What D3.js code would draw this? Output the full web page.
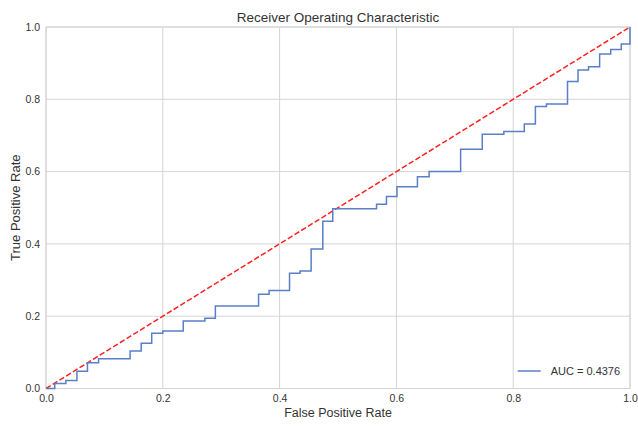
<!DOCTYPE html>
<html>
<head>
<meta charset="utf-8">
<script src="https://cdn.jsdelivr.net/npm/d3@7"></script>
<style>
  html, body { margin: 0; padding: 0; background: #ffffff; }
  svg { display: block; font-family: "Liberation Sans", Arial, sans-serif; }
</style>
</head>
<body>
<div id="chart"></div>
<script>
// ROC curve corner points
const fpr = [0.000, 0.015, 0.015, 0.034, 0.034, 0.053, 0.053, 0.071, 0.071, 0.090, 0.090,
  0.144, 0.144, 0.163, 0.163, 0.181, 0.181, 0.200, 0.200, 0.235, 0.235, 0.272, 0.272,
  0.290, 0.290, 0.364, 0.364, 0.382, 0.382, 0.417, 0.417, 0.435, 0.435, 0.454, 0.454,
  0.474, 0.474, 0.491, 0.491, 0.566, 0.566, 0.583, 0.583, 0.601, 0.601, 0.636, 0.636,
  0.656, 0.656, 0.710, 0.710, 0.747, 0.747, 0.784, 0.784, 0.819, 0.819, 0.838, 0.838,
  0.857, 0.857, 0.893, 0.893, 0.911, 0.911, 0.929, 0.929, 0.948, 0.948, 0.967, 0.967,
  0.985, 0.985, 1.000, 1.000];
const tpr = [0.000, 0.000, 0.014, 0.014, 0.022, 0.022, 0.048, 0.048, 0.071, 0.071, 0.082,
  0.082, 0.104, 0.104, 0.125, 0.125, 0.153, 0.153, 0.159, 0.159, 0.187, 0.187, 0.194,
  0.194, 0.228, 0.228, 0.261, 0.261, 0.271, 0.271, 0.319, 0.319, 0.325, 0.325, 0.386,
  0.386, 0.463, 0.463, 0.497, 0.497, 0.510, 0.510, 0.531, 0.531, 0.558, 0.558, 0.586,
  0.586, 0.600, 0.600, 0.662, 0.662, 0.703, 0.703, 0.711, 0.711, 0.732, 0.732, 0.780,
  0.780, 0.787, 0.787, 0.849, 0.849, 0.881, 0.881, 0.890, 0.890, 0.925, 0.925, 0.938,
  0.938, 0.953, 0.953, 1.000];
const diagonal = [0, 1];
const xTicks = [0.0, 0.2, 0.4, 0.6, 0.8, 1.0];
const yTicks = [0.0, 0.2, 0.4, 0.6, 0.8, 1.0];
const aucLabel = "AUC = 0.4376";
const titleText = "Receiver Operating Characteristic";
const xLabel = "False Positive Rate";
const yLabel = "True Positive Rate";

const W = 638, H = 426;
const margin = { left: 46, right: 8, top: 27, bottom: 37.5 };
const iw = W - margin.left - margin.right;
const ih = H - margin.top - margin.bottom;

const svg = d3.select("#chart").append("svg").attr("width", W).attr("height", H);
const g = svg.append("g").attr("transform", `translate(${margin.left},${margin.top})`);

const x = d3.scaleLinear().domain([0, 1]).range([0, iw]);
const y = d3.scaleLinear().domain([0, 1]).range([ih, 0]);

const gridColor = "#d4d4d4";
const textColor = "#333333";

// grid
g.append("g").selectAll("line").data(xTicks).join("line")
  .attr("x1", d => x(d)).attr("x2", d => x(d)).attr("y1", 0).attr("y2", ih)
  .attr("stroke", gridColor).attr("stroke-width", 1);
g.append("g").selectAll("line").data(yTicks).join("line")
  .attr("y1", d => y(d)).attr("y2", d => y(d)).attr("x1", 0).attr("x2", iw)
  .attr("stroke", gridColor).attr("stroke-width", 1);

// frame
g.append("rect").attr("x", 0).attr("y", 0).attr("width", iw).attr("height", ih)
  .attr("fill", "none").attr("stroke", gridColor).attr("stroke-width", 1);

// axes (tick labels only)
const xAxis = g.append("g").attr("transform", `translate(0,${ih})`)
  .call(d3.axisBottom(x).tickValues(xTicks).tickFormat(d3.format(".1f")).tickSize(0).tickPadding(6));
const yAxis = g.append("g")
  .call(d3.axisLeft(y).tickValues(yTicks).tickFormat(d3.format(".1f")).tickSize(0).tickPadding(6));
[xAxis, yAxis].forEach(a => {
  a.select(".domain").remove();
  a.selectAll("text").attr("fill", textColor).style("font-size", "10.5px")
    .style("font-family", "'Liberation Sans', Arial, sans-serif");
});

// diagonal
g.append("line")
  .attr("x1", x(diagonal[0])).attr("y1", y(diagonal[0]))
  .attr("x2", x(diagonal[1])).attr("y2", y(diagonal[1]))
  .attr("stroke", "#ff2020").attr("stroke-width", 1.5)
  .attr("stroke-dasharray", "5.5,2.4");

// roc curve
const pts = fpr.map((f, i) => [f, tpr[i]]);
g.append("path").datum(pts)
  .attr("d", d3.line().x(d => x(d[0])).y(d => y(d[1])))
  .attr("fill", "none").attr("stroke", "#5a7fc6").attr("stroke-width", 1.5)
  .attr("stroke-linejoin", "miter");

// legend
const lg = g.append("g").attr("transform", `translate(${x(0.8) + 4.5},${ih - 17.5})`);
lg.append("line").attr("x1", 0).attr("x2", 23).attr("y1", 0).attr("y2", 0)
  .attr("stroke", "#5a7fc6").attr("stroke-width", 1.5);
lg.append("text").attr("x", 33).attr("y", 0).attr("dy", "0.35em")
  .attr("fill", textColor).style("font-size", "11px").text(aucLabel);

// title and labels
svg.append("text").attr("x", margin.left + iw / 2).attr("y", 21.5)
  .attr("text-anchor", "middle").attr("fill", textColor).style("font-size", "13.5px")
  .text(titleText);
svg.append("text").attr("x", margin.left + iw / 2).attr("y", 417)
  .attr("text-anchor", "middle").attr("fill", textColor).style("font-size", "12.5px")
  .text(xLabel);
svg.append("text").attr("transform", `translate(20,${margin.top + ih / 2}) rotate(-90)`)
  .attr("text-anchor", "middle").attr("fill", textColor).style("font-size", "13px")
  .text(yLabel);
</script>
</body>
</html>
